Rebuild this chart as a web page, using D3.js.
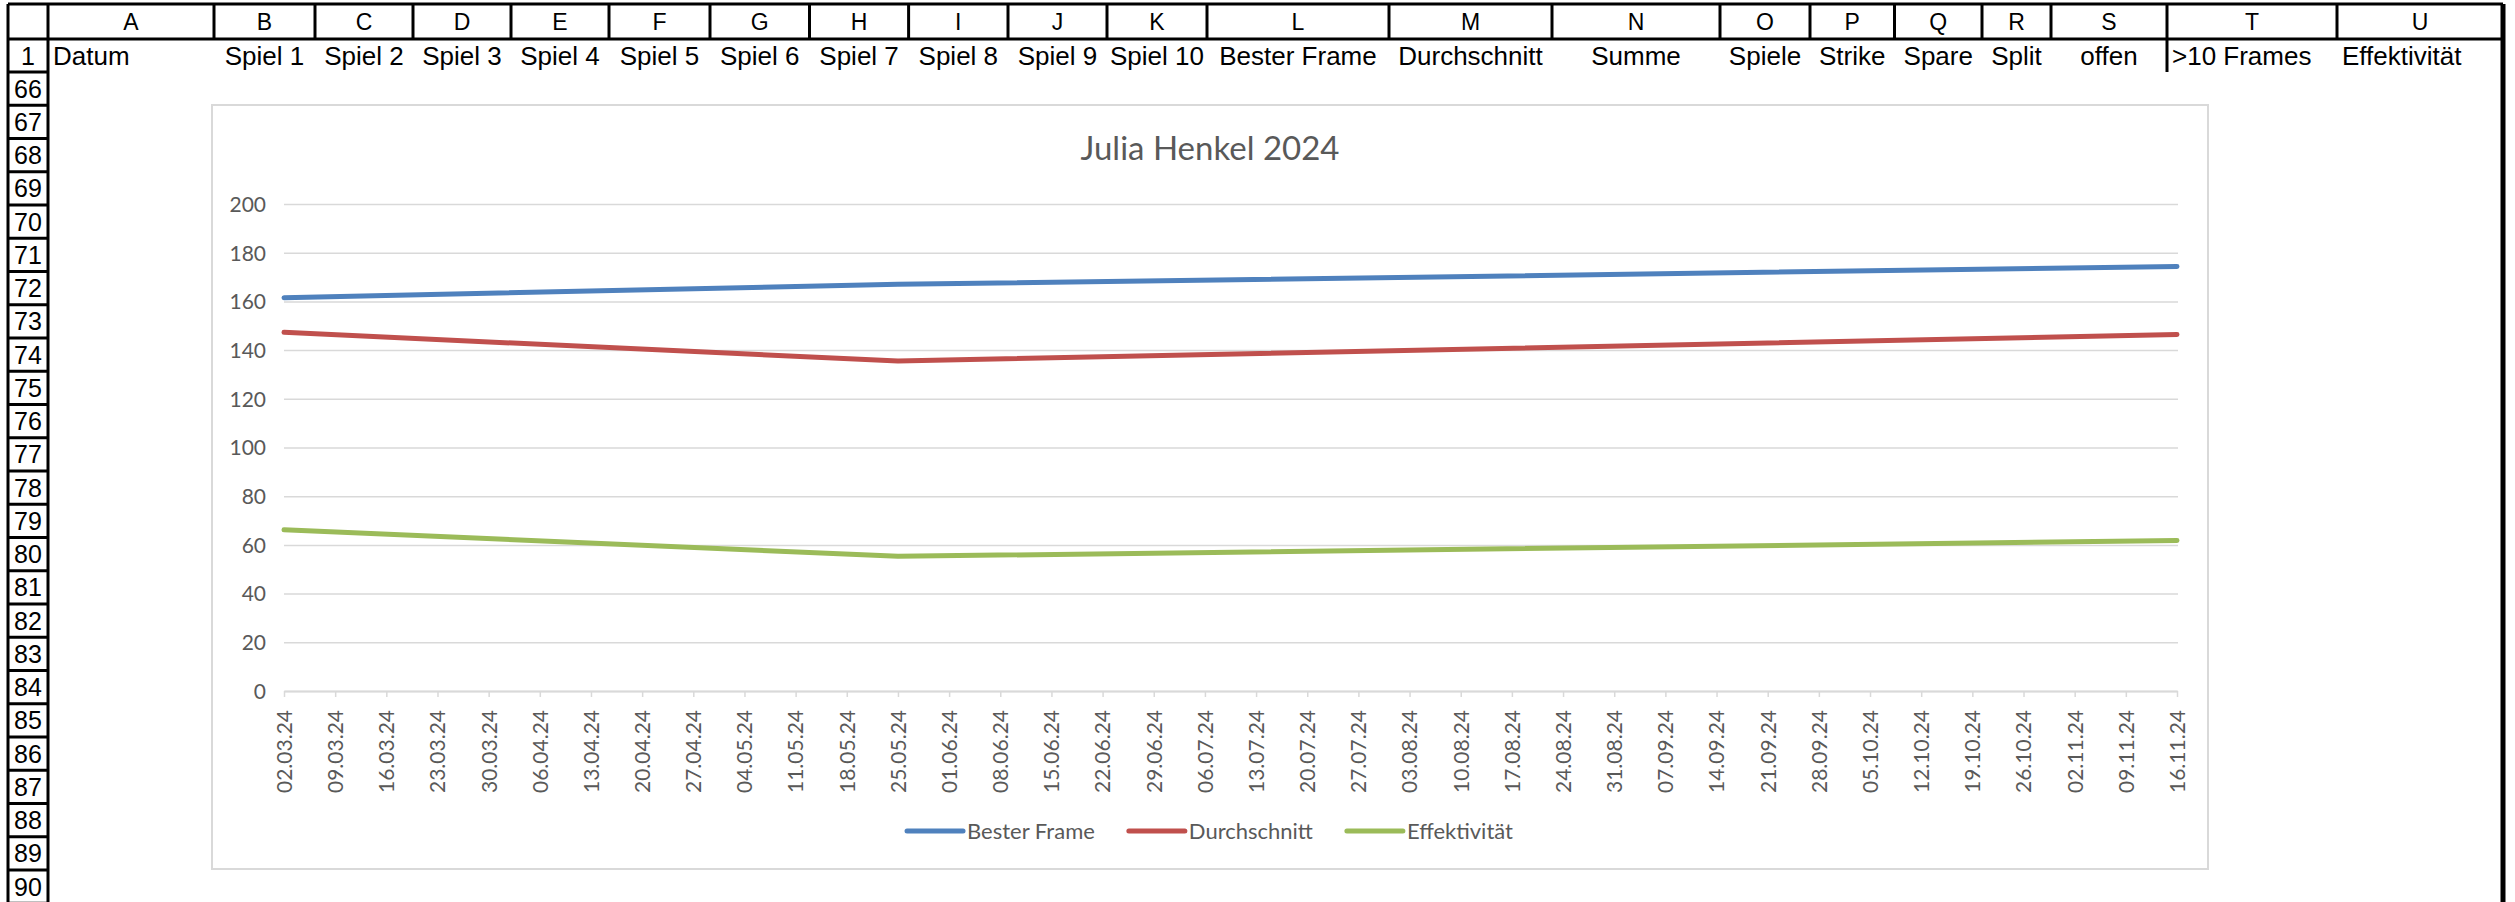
<!DOCTYPE html>
<meta charset="UTF-8">
<html>
	<head>
		<script src="https://d3js.org/d3.v7.min.js"></script>
		<style>
			body
			{
				margin: 0;
				background: #ffffff;
			}
			.Cell
			{
				font-family: "Liberation Sans", Arial, sans-serif;
				fill: #000000;
			}
			.ChartText
			{
				font-family: Lato, "Noto Sans", sans-serif;
				fill: #595959;
			}
		</style>
	</head>
	<body>
		<svg class="Sheet"></svg>
		<script type="text/javascript">
		// sheet texts
		var ColumnLetters = ["A", "B", "C", "D", "E", "F", "G", "H", "I", "J", "K", "L", "M", "N", "O", "P", "Q", "R", "S", "T", "U"];
		var HeaderLabels = ["Datum", "Spiel 1", "Spiel 2", "Spiel 3", "Spiel 4", "Spiel 5", "Spiel 6", "Spiel 7", "Spiel 8", "Spiel 9", "Spiel 10",
			"Bester Frame", "Durchschnitt", "Summe", "Spiele", "Strike", "Spare", "Split", "offen", ">10 Frames", "Effektivität"];
		var RowNumbers = ["1", "66", "67", "68", "69", "70", "71", "72", "73", "74", "75", "76", "77", "78", "79", "80",
			"81", "82", "83", "84", "85", "86", "87", "88", "89", "90"];

		// chart data
		var ChartTitle = "Julia Henkel 2024";
		var Dates = ["02.03.24", "09.03.24", "16.03.24", "23.03.24", "30.03.24", "06.04.24", "13.04.24", "20.04.24", "27.04.24",
			"04.05.24", "11.05.24", "18.05.24", "25.05.24", "01.06.24", "08.06.24", "15.06.24", "22.06.24", "29.06.24",
			"06.07.24", "13.07.24", "20.07.24", "27.07.24", "03.08.24", "10.08.24", "17.08.24", "24.08.24", "31.08.24",
			"07.09.24", "14.09.24", "21.09.24", "28.09.24", "05.10.24", "12.10.24", "19.10.24", "26.10.24", "02.11.24",
			"09.11.24", "16.11.24"];
		var YTicks = [0, 20, 40, 60, 80, 100, 120, 140, 160, 180, 200];
		var SeriesNames = ["Bester Frame", "Durchschnitt", "Effektivität"];
		var PointDates = ["02.03.24", "25.05.24", "16.11.24"];
		var BesterFrame = [161.5, 167.0, 174.3];
		var Durchschnitt = [147.3, 135.5, 146.4];
		var Effektivitaet = [66.2, 55.3, 61.8];

		// layout
		var Width = 2515;
		var Height = 902;
		var ColEdges = [8, 48, 214, 315, 413, 511, 609, 710, 809.5, 908.6, 1008, 1107, 1207, 1389, 1552, 1720, 1810, 1894.5, 1982, 2051, 2167, 2337, 2503];
		var HeaderTop = 4, HeaderBottom = 39, Row1Bottom = 72, RowStep = 33.25;
		var LeftAligned = {"Datum": true, ">10 Frames": true, "Effektivität": true};
		var Colors = ["#4f81bd", "#c0504d", "#9bbb59"];
		var ChartBox = {"Left": 212, "Top": 105, "Right": 2208, "Bottom": 869};
		var Plot = {"Left": 284, "Right": 2177, "Top": 204, "Bottom": 691};

		var RowEdges = [HeaderTop, HeaderBottom, Row1Bottom];
		for (var i = 1; i < RowNumbers.length; i++)
		{
			RowEdges.push(Row1Bottom + i * RowStep);
		}

		var Sheet = d3.select(".Sheet")
			.attr("width", Width)
			.attr("height", Height);

		Sheet.append("rect")
			.attr("width", Width)
			.attr("height", Height)
			.attr("fill", "#ffffff");

		// ---- grid lines ----
		var Grid = Sheet.append("g").attr("stroke", "#000000").attr("stroke-width", 3);

		Grid.append("line")
			.attr("x1", ColEdges[0]).attr("x2", ColEdges[ColEdges.length - 1])
			.attr("y1", HeaderTop).attr("y2", HeaderTop);
		Grid.append("line")
			.attr("x1", ColEdges[0]).attr("x2", ColEdges[ColEdges.length - 1])
			.attr("y1", HeaderBottom).attr("y2", HeaderBottom);

		Grid.selectAll(".ColSep")
			.data(ColEdges.slice(0, ColEdges.length - 1))
			.enter()
			.append("line")
			.attr("x1", function(d){return d;})
			.attr("x2", function(d){return d;})
			.attr("y1", HeaderTop)
			.attr("y2", function(d, i){return i < 2 ? Height : HeaderBottom;});

		Grid.selectAll(".RowSep")
			.data(RowEdges.slice(2))
			.enter()
			.append("line")
			.attr("x1", ColEdges[0])
			.attr("x2", ColEdges[1])
			.attr("y1", function(d){return d;})
			.attr("y2", function(d){return d;});

		// border between S and T in row 1
		Grid.append("line")
			.attr("x1", ColEdges[20]).attr("x2", ColEdges[20])
			.attr("y1", HeaderBottom).attr("y2", Row1Bottom);

		// right border of the used range
		Grid.append("line")
			.attr("x1", ColEdges[ColEdges.length - 1]).attr("x2", ColEdges[ColEdges.length - 1])
			.attr("y1", HeaderTop).attr("y2", Height)
			.attr("stroke-width", 5);

		// ---- headings ----
		Sheet.selectAll(".ColLetter")
			.data(ColumnLetters)
			.enter()
			.append("text")
			.attr("class", "Cell")
			.attr("x", function(d, i){return (ColEdges[i + 1] + ColEdges[i + 2]) / 2;})
			.attr("y", (HeaderTop + HeaderBottom) / 2)
			.attr("dy", "0.36em")
			.attr("text-anchor", "middle")
			.style("font-size", "23px")
			.text(function(d){return d;});

		Sheet.selectAll(".RowNumber")
			.data(RowNumbers)
			.enter()
			.append("text")
			.attr("class", "Cell")
			.attr("x", (ColEdges[0] + ColEdges[1]) / 2)
			.attr("y", function(d, i){return (RowEdges[i + 1] + RowEdges[i + 2]) / 2;})
			.attr("dy", "0.36em")
			.attr("text-anchor", "middle")
			.style("font-size", "25px")
			.text(function(d){return d;});

		Sheet.selectAll(".Header")
			.data(HeaderLabels)
			.enter()
			.append("text")
			.attr("class", "Cell")
			.attr("x", function(d, i)
			{
				return LeftAligned[d] ? ColEdges[i + 1] + 5 : (ColEdges[i + 1] + ColEdges[i + 2]) / 2;
			})
			.attr("y", (HeaderBottom + Row1Bottom) / 2)
			.attr("dy", "0.36em")
			.attr("text-anchor", function(d){return LeftAligned[d] ? "start" : "middle";})
			.style("font-size", "26px")
			.text(function(d){return d;});

		// ---- chart ----
		var Chart = Sheet.append("g");

		Chart.append("rect")
			.attr("x", ChartBox.Left)
			.attr("y", ChartBox.Top)
			.attr("width", ChartBox.Right - ChartBox.Left)
			.attr("height", ChartBox.Bottom - ChartBox.Top)
			.attr("fill", "#ffffff")
			.attr("stroke", "#d9d9d9")
			.attr("stroke-width", 2);

		Chart.append("text")
			.attr("class", "ChartText")
			.attr("x", (ChartBox.Left + ChartBox.Right) / 2)
			.attr("y", 160)
			.attr("text-anchor", "middle")
			.style("font-size", "33px")
			.text(ChartTitle);

		var XScale = d3.scalePoint()
			.domain(Dates)
			.range([Plot.Left, Plot.Right]);

		var YScale = d3.scaleLinear()
			.domain([0, 200])
			.range([Plot.Bottom, Plot.Top]);

		var YAxis = d3.axisLeft(YScale)
			.tickValues(YTicks)
			.tickSize(-(Plot.Right - Plot.Left + 1))
			.tickPadding(18);

		var YAxisG = Chart.append("g")
			.attr("transform", "translate(" + Plot.Left + ",0)")
			.call(YAxis);
		YAxisG.select(".domain").remove();
		YAxisG.selectAll("line")
			.attr("stroke", "#d9d9d9")
			.attr("stroke-width", 1.5);
		YAxisG.selectAll("text")
			.attr("class", "ChartText")
			.attr("dy", "0.35em")
			.style("font-size", "21px");

		var XAxis = d3.axisBottom(XScale)
			.tickSize(6)
			.tickSizeOuter(0);

		var XAxisG = Chart.append("g")
			.attr("transform", "translate(0," + Plot.Bottom + ")")
			.call(XAxis);
		XAxisG.select(".domain")
			.attr("stroke", "#d9d9d9")
			.attr("stroke-width", 2);
		XAxisG.selectAll("line")
			.attr("stroke", "#d9d9d9")
			.attr("stroke-width", 1.5);
		XAxisG.selectAll("text")
			.attr("class", "ChartText")
			.attr("transform", "rotate(-90)")
			.attr("x", -19)
			.attr("y", 0)
			.attr("dy", "0.35em")
			.attr("text-anchor", "end")
			.style("font-size", "21px");

		var SeriesData = [BesterFrame, Durchschnitt, Effektivitaet];

		var Line = d3.line()
			.x(function(d){return XScale(d.Date);})
			.y(function(d){return YScale(d.Value);});

		Chart.selectAll(".Series")
			.data(SeriesData)
			.enter()
			.append("path")
			.attr("class", "Series")
			.attr("d", function(Values)
			{
				return Line(Values.map(function(v, i){return {"Date": PointDates[i], "Value": v};}));
			})
			.attr("fill", "none")
			.attr("stroke", function(d, i){return Colors[i];})
			.attr("stroke-width", 5)
			.attr("stroke-linecap", "round")
			.attr("stroke-linejoin", "round");

		// ---- legend ----
		var LegendY = 831;
		var SwatchLen = 56, SwatchGap = 4, ItemGap = 34;
		var Legend = Chart.append("g");
		var Items = Legend.selectAll(".LegendItem")
			.data(SeriesNames)
			.enter()
			.append("g")
			.attr("class", "LegendItem");

		Items.append("line")
			.attr("x1", 0).attr("x2", SwatchLen)
			.attr("y1", LegendY).attr("y2", LegendY)
			.attr("stroke", function(d, i){return Colors[i];})
			.attr("stroke-width", 5)
			.attr("stroke-linecap", "round");

		Items.append("text")
			.attr("class", "ChartText")
			.attr("x", SwatchLen + SwatchGap)
			.attr("y", LegendY)
			.attr("dy", "0.35em")
			.style("font-size", "22px")
			.text(function(d){return d;});

		var Offset = 0;
		var Offsets = [];
		Items.each(function()
		{
			Offsets.push(Offset);
			var TextW = d3.select(this).select("text").node().getComputedTextLength();
			Offset += SwatchLen + SwatchGap + TextW + ItemGap;
		});
		var LegendW = Offset - ItemGap;
		var LegendX = (ChartBox.Left + ChartBox.Right) / 2 - LegendW / 2;
		Items.attr("transform", function(d, i){return "translate(" + (LegendX + Offsets[i]) + ",0)";});
		</script>
	</body>
</html>
